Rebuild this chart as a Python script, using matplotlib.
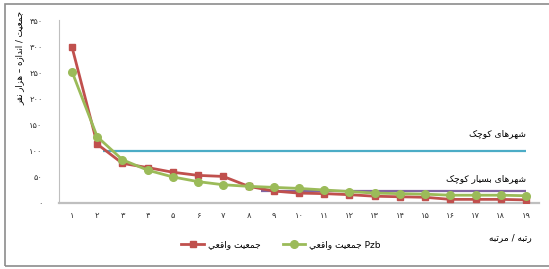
import matplotlib
matplotlib.use("Agg")
import matplotlib.pyplot as plt
from matplotlib.patches import Rectangle

# data (rank vs. population, thousand persons)
ranks = list(range(1, 20))
pop_actual = [298, 112, 75, 67, 58, 52, 50, 31, 22, 18, 17, 15, 12, 11, 10, 6, 6, 6, 5]
pop_pzb = [251, 126, 82, 62, 49, 40, 34, 31, 29, 27, 24, 21, 18, 17, 16, 14, 14, 14, 13]
small_level = 98
very_small_level = 23
y_ticks = [0, 50, 100, 150, 200, 250, 300, 350]

# persian text, written in visual order with presentation forms
# (matplotlib does no arabic shaping / bidi by itself)
w_jamiat = "\uFE96\uFEF4\uFECC\uFEE4\uFE9F"        # جمعیت
w_vaghei = "\uFEF2\uFECC\uFED7\uFE8D\uFEED"        # واقعی
w_shahrha = "\uFEEF\uFE8E\uFEEB\uFEAE\uFEEC\uFEB7"  # شهرهای
w_kuchak = "\uFB8F\uFB7C\uFEEE\uFB90"              # کوچک
w_besyar = "\uFEAD\uFE8E\uFEF4\uFEB4\uFE91"        # بسیار
w_andaze = "\uFEE9\uFEAF\uFE8D\uFEAA\uFEE7\uFE8D"  # اندازه
w_hezar = "\uFEAD\uFE8D\uFEB0\uFEEB"               # هزار
w_nafar = "\uFEAE\uFED4\uFEE7"                     # نفر
w_rotbe = "\uFEEA\uFE92\uFE97\uFEAD"               # رتبه
w_martabe = "\uFEEA\uFE92\uFE97\uFEAE\uFEE3"       # مرتبه

lbl_actual = w_vaghei + " " + w_jamiat
lbl_pzb = w_vaghei + " " + w_jamiat + " Pzb"
lbl_small = w_kuchak + " " + w_shahrha
lbl_very_small = w_kuchak + " " + w_besyar + " " + w_shahrha
y_title = w_nafar + " " + w_hezar + " \u2013 " + w_andaze + " / " + w_jamiat
x_title = w_martabe + " / " + w_rotbe

fa_digits = "۰۱۲۳۴۵۶۷۸۹"


def fa(n):
    return "".join(fa_digits[int(c)] for c in str(n))


plt.rcParams['font.family'] = ['DejaVu Sans']

W, H = 549, 269
fig = plt.figure(figsize=(W / 100, H / 100), dpi=100)
ax = fig.add_axes([59.4 / W, 1 - 202.5 / H, (538.6 - 59.4) / W, (202.5 - 20) / H])

red = '#C0504D'
green = '#9BBB59'
cyan = '#4BACC6'
purple = '#8064A2'

ax.hlines(small_level, 2.23, 19, colors=cyan, lw=1.6, zorder=2)
ax.hlines(very_small_level, 8.5, 19, colors=purple, lw=1.6, zorder=2)

ax.plot(ranks, pop_actual, color=red, lw=2.0, marker='s', ms=4.5, label=lbl_actual, zorder=3)
ax.plot(ranks, pop_pzb, color=green, lw=2.0, marker='o', ms=5.5, label=lbl_pzb, zorder=4)

ax.set_xlim(0.5, 19.5)
ax.set_ylim(0, 350)
ax.set_xticks(ranks)
ax.set_xticklabels([fa(r) for r in ranks], fontsize=6, color='#333333')
ax.set_yticks(y_ticks)
ax.set_yticklabels([fa(v) for v in y_ticks], fontsize=6, color='#333333')
ax.tick_params(axis='both', length=0)
ax.tick_params(axis='y', pad=12)
ax.tick_params(axis='x', pad=6)

for s in ['top', 'right']:
    ax.spines[s].set_visible(False)
ax.spines['left'].set_color('#BFBFBF')
ax.spines['left'].set_linewidth(0.8)
ax.spines['bottom'].set_color('#BFBFBF')
ax.spines['bottom'].set_linewidth(1.6)

ax.text(19, small_level + 34, lbl_small, ha='right', va='center', fontsize=6.5)
ax.text(19, very_small_level + 23, lbl_very_small, ha='right', va='center', fontsize=6.5)

fig.text(20 / W, 1 - 58 / H, y_title, rotation=90, ha='center', va='center', fontsize=6.2)
fig.text(510 / W, 1 - 238 / H, x_title, ha='center', va='center', fontsize=6.5)

fig.legend(loc='center', bbox_to_anchor=(281 / W, 1 - 245 / H), ncol=2, frameon=False,
           fontsize=6.5, handlelength=2.5, columnspacing=2.5, handletextpad=0.4)

# outer chart border
fig.patches.append(Rectangle((5 / W, 1 - 266 / H), 1.0, (266 - 4) / H, transform=fig.transFigure,
                             fill=False, edgecolor='#8C8C8C', lw=1.2))

fig.savefig('out.png', dpi=100)
